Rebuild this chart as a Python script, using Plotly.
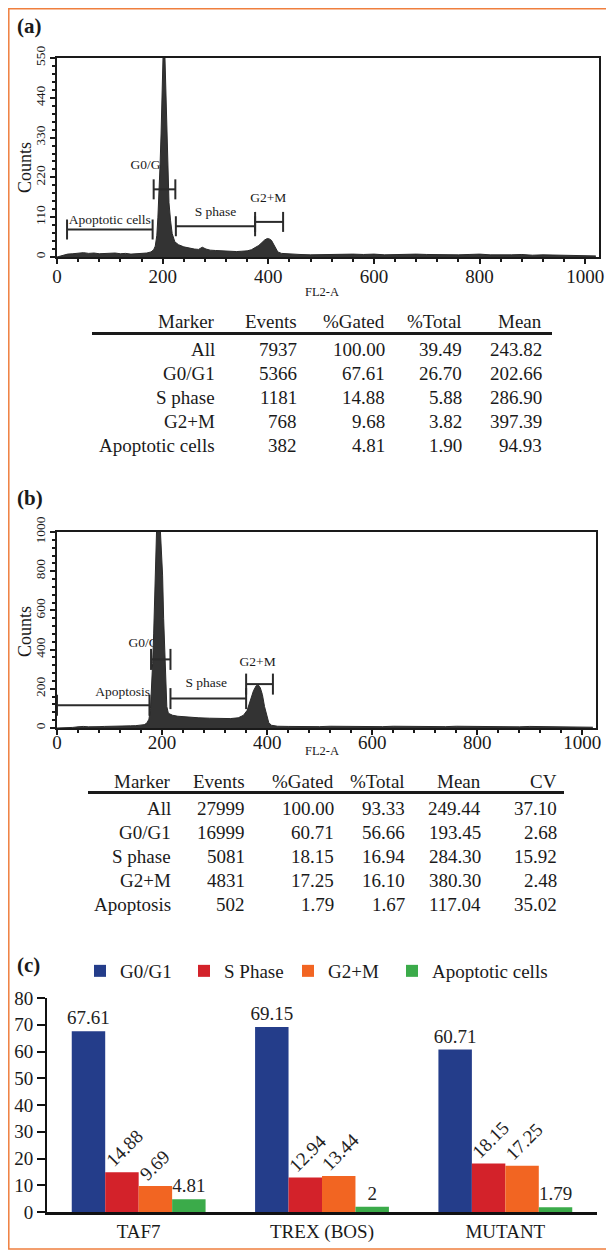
import plotly.graph_objects as go

PAGE_W, PAGE_H = 614, 1251
BODY = 8                      # default page margin of the html body
W, H = PAGE_W - BODY, PAGE_H - BODY
FONT = "Liberation Serif"
INK = "#1a1a1a"

# ---------------- data ----------------
# (a) histogram: FL2-A channel vs counts
hist_a_channel = [
    0, 5, 10, 15, 20, 30, 40, 50, 60, 70,
    80, 90, 100, 110, 120, 130, 140, 150, 160, 170,
    178, 183, 186, 189, 191, 193, 195, 197, 199, 201,
    204, 206, 208, 210, 212, 215, 218, 223, 230, 240,
    250, 260, 268, 275, 282, 290, 300, 310, 320, 330,
    340, 350, 360, 368, 375, 382, 388, 393, 398, 402,
    406, 410, 414, 418, 425, 440, 460, 480, 500, 520,
    540, 560, 580, 600, 620, 640, 660, 680, 700, 720,
    740, 760, 780, 800, 820, 840, 860, 880, 900, 920,
    940, 960, 980, 1000, 1020]
hist_a_counts = [
    0, 2, 4, 6, 8, 9, 11, 12, 10, 11,
    9, 10, 9, 11, 9, 10, 8, 9, 10, 11,
    14, 20, 30, 60, 110, 170, 250, 340, 450, 570,
    570, 450, 330, 220, 150, 100, 65, 42, 34, 28,
    24, 22, 21, 27, 22, 19, 18, 17, 16, 16,
    15, 16, 17, 20, 25, 32, 40, 47, 51, 50,
    46, 35, 22, 14, 10, 8, 7, 6, 7, 6,
    7, 8, 7, 8, 6, 7, 6, 8, 7, 6,
    7, 6, 7, 8, 6, 5, 6, 7, 5, 6,
    5, 6, 5, 4, 3]

# (b) histogram
hist_b_channel = [
    0, 10, 20, 30, 40, 50, 60, 70, 80, 90,
    100, 110, 120, 130, 140, 150, 160, 166, 171, 175,
    178, 180, 182, 184, 186, 188, 190, 196, 199, 201,
    203, 205, 207, 209, 212, 220, 230, 250, 270, 290,
    310, 330, 345, 355, 362, 368, 374, 379, 383, 387,
    391, 395, 399, 403, 408, 420, 440, 460, 480, 500,
    520, 540, 560, 580, 600, 620, 640, 660, 680, 700,
    720, 740, 760, 780, 800, 820, 840, 860, 880, 900,
    920, 940, 960, 980, 1000, 1020]
hist_b_counts = [
    0, 0, 1, 3, 6, 8, 6, 8, 7, 8,
    8, 9, 8, 10, 11, 12, 14, 17, 25, 45,
    100, 200, 330, 480, 700, 900, 1050, 1050, 900, 780,
    560, 380, 200, 110, 75, 65, 60, 55, 52, 50,
    48, 48, 52, 65, 90, 140, 190, 215, 220, 205,
    170, 110, 60, 28, 14, 9, 8, 7, 8, 7,
    9, 8, 10, 9, 8, 7, 9, 8, 10, 9,
    8, 7, 9, 8, 7, 9, 8, 7, 6, 8,
    7, 6, 7, 6, 5, 4]

# gate markers (channel ranges, bar level in counts, label position)
a_marker_names = ["Apoptotic cells", "G0/G1", "S phase", "G2+M"]
a_marker_start = [19, 183, 225, 375]
a_marker_end = [181, 224, 375, 428]
a_marker_level = [76, 187, 85, 97]
a_label_x = [100, 174, 300, 400]
a_label_y = [100, 252, 123, 162]

b_marker_names = ["Apoptosis", "G0/G1", "S phase", "G2+M"]
b_marker_start = [0, 179, 216, 360]
b_marker_end = [176, 216, 360, 411]
b_marker_level = [116, 350, 150, 224]
b_label_x = [125, 171, 284, 382]
b_label_y = [178, 431, 224, 331]

x_range = [0, 1026]
a_y_max = 550
b_y_max = 1000

# statistics tables
table_a_header = ["Marker", "Events", "%Gated", "%Total", "Mean"]
table_a_marker = ["All", "G0/G1", "S phase", "G2+M", "Apoptotic cells"]
table_a_events = ["7937", "5366", "1181", "768", "382"]
table_a_gated = ["100.00", "67.61", "14.88", "9.68", "4.81"]
table_a_total = ["39.49", "26.70", "5.88", "3.82", "1.90"]
table_a_mean = ["243.82", "202.66", "286.90", "397.39", "94.93"]

table_b_header = ["Marker", "Events", "%Gated", "%Total", "Mean", "CV"]
table_b_marker = ["All", "G0/G1", "S phase", "G2+M", "Apoptosis"]
table_b_events = ["27999", "16999", "5081", "4831", "502"]
table_b_gated = ["100.00", "60.71", "18.15", "17.25", "1.79"]
table_b_total = ["93.33", "56.66", "16.94", "16.10", "1.67"]
table_b_mean = ["249.44", "193.45", "284.30", "380.30", "117.04"]
table_b_cv = ["37.10", "2.68", "15.92", "2.48", "35.02"]

# (c) bar chart
groups = ["TAF7", "TREX (BOS)", "MUTANT"]
phase_names = ["G0/G1", "S Phase", "G2+M", "Apoptotic cells"]
g0g1 = [67.61, 69.15, 60.71]
s_phase = [14.88, 12.94, 18.15]
g2m = [9.69, 13.44, 17.25]
apoptotic = [4.81, 2, 1.79]
phase_colors = ["#243D8A", "#D3222A", "#F26522", "#3BAB4A"]
phase_label_rotated = [False, True, True, False]
phase_legend = ["legend", "legend", "legend", "legend2"]

BARGAP = 0.27
LABEL_SIZE = 19


# ---------------- helpers ----------------
def px(x):
    return (x - BODY) / W


def py(y):
    return 1 - (y - BODY) / H


def brackets(starts, ends, levels, half):
    xs, ys = [], []
    for x0, x1, yv in zip(starts, ends, levels):
        xs += [x0, x1, None, x0, x0, None, x1, x1, None]
        ys += [yv, yv, None, yv - half, yv + half, None, yv - half, yv + half, None]
    return xs, ys


def text_len(s, size):
    # approximate advance of a Times-like serif numeric string
    return sum(0.25 * size if ch == "." else 0.5 * size for ch in s)


# subplot pixel boxes on the page (left, right, bottom, top)
A_BOX = (57, 599, 257, 58)
B_BOX = (57, 596, 728, 532)
C_BOX = (47, 597, 1212, 998)

fig = go.Figure()

# ---------- panel (a) ----------
fig.add_trace(go.Scatter(
    x=a_label_x, y=a_label_y, text=a_marker_names, mode="text",
    textfont=dict(family=FONT, size=13.5, color=INK),
    xaxis="x", yaxis="y", showlegend=False, hoverinfo="skip"))
fig.add_trace(go.Scatter(
    x=hist_a_channel, y=hist_a_counts, mode="lines", fill="tozeroy",
    line=dict(color="#2a2a2a", width=1), fillcolor="#333333",
    xaxis="x", yaxis="y", showlegend=False))
half_a = 10 * a_y_max / (A_BOX[2] - A_BOX[3])
bx, by = brackets(a_marker_start, a_marker_end, a_marker_level, half_a)
fig.add_trace(go.Scatter(x=bx, y=by, mode="lines", line=dict(color="#2b2b2b", width=2),
                         xaxis="x", yaxis="y", showlegend=False, hoverinfo="skip"))

# ---------- panel (b) ----------
fig.add_trace(go.Scatter(
    x=b_label_x, y=b_label_y, text=b_marker_names, mode="text",
    textfont=dict(family=FONT, size=13.5, color=INK),
    xaxis="x2", yaxis="y2", showlegend=False, hoverinfo="skip"))
fig.add_trace(go.Scatter(
    x=hist_b_channel, y=hist_b_counts, mode="lines", fill="tozeroy",
    line=dict(color="#2a2a2a", width=1), fillcolor="#333333",
    xaxis="x2", yaxis="y2", showlegend=False))
half_b = 10.5 * b_y_max / (B_BOX[2] - B_BOX[3])
bx, by = brackets(b_marker_start, b_marker_end, b_marker_level, half_b)
fig.add_trace(go.Scatter(x=bx, y=by, mode="lines", line=dict(color="#2b2b2b", width=2),
                         xaxis="x2", yaxis="y2", showlegend=False, hoverinfo="skip"))

# ---------- panel (c) ----------
bar_annotations = []
n_series = len(phase_names)
for j, (name, vals, col, rot, leg) in enumerate(zip(phase_names,
                                                   [g0g1, s_phase, g2m, apoptotic],
                                                   phase_colors, phase_label_rotated,
                                                   phase_legend)):
    labels = [str(v) for v in vals]
    fig.add_trace(go.Bar(
        x=groups, y=vals, name=name, marker=dict(color=col, line=dict(width=0)),
        text=None if rot else labels, textposition="outside", textangle=0,
        textfont=dict(family=FONT, size=LABEL_SIZE, color="#222"),
        constraintext="none", cliponaxis=False, legend=leg,
        xaxis="x3", yaxis="y3"))
    if rot:
        offset = (j - (n_series - 1) / 2) * (1 - BARGAP) / n_series
        for i, (v, s) in enumerate(zip(vals, labels)):
            half = 0.707 * text_len(s, LABEL_SIZE) / 2
            bar_annotations.append(dict(
                x=i + offset, y=v, xref="x3", yref="y3", text=s, showarrow=False,
                textangle=-45, xanchor="center", yanchor="middle",
                xshift=-13 + half, yshift=9 + half,
                font=dict(family=FONT, size=LABEL_SIZE, color="#222")))

hist_axis = dict(showline=True, linewidth=2, linecolor=INK, mirror=True,
                 showgrid=False, zeroline=False, ticks="outside", ticklen=5,
                 tickwidth=1.5, tickcolor=INK, automargin=False)

legend_common = dict(orientation="h", yanchor="middle", xanchor="left",
                     font=dict(family=FONT, size=19, color=INK),
                     bgcolor="rgba(0,0,0,0)", traceorder="normal")

layout = dict(
    width=W, height=H, autosize=False,
    margin=dict(l=0, r=0, t=0, b=0, pad=0, autoexpand=False),
    paper_bgcolor="white", plot_bgcolor="white",
    font=dict(family=FONT, color=INK),
    barmode="group", bargap=BARGAP, bargroupgap=0,
    xaxis=dict(domain=[px(A_BOX[0]), px(A_BOX[1])], range=x_range, anchor="y",
               tickmode="linear", tick0=0, dtick=200, tickfont=dict(size=19),
               ticklabelstandoff=-4,
               minor=dict(ticks="outside", ticklen=3, dtick=40, tickcolor=INK, showgrid=False),
               **hist_axis),
    yaxis=dict(domain=[py(A_BOX[2]), py(A_BOX[3])], range=[0, a_y_max], anchor="x",
               tickmode="linear", tick0=0, dtick=110, tickangle=-90, tickfont=dict(size=13.5),
               minor=dict(ticks="outside", ticklen=3, dtick=22, tickcolor=INK, showgrid=False),
               **hist_axis),
    xaxis2=dict(domain=[px(B_BOX[0]), px(B_BOX[1])], range=x_range, anchor="y2",
                tickmode="linear", tick0=0, dtick=200, tickfont=dict(size=19),
                ticklabelstandoff=-9,
                minor=dict(ticks="outside", ticklen=3, dtick=40, tickcolor=INK, showgrid=False),
                **hist_axis),
    yaxis2=dict(domain=[py(B_BOX[2]), py(B_BOX[3])], range=[0, b_y_max], anchor="x2",
                tickmode="linear", tick0=0, dtick=200, tickangle=-90, tickfont=dict(size=13.5),
                minor=dict(ticks="outside", ticklen=3, dtick=40, tickcolor=INK, showgrid=False),
                **hist_axis),
    xaxis3=dict(domain=[px(C_BOX[0]), px(C_BOX[1])], anchor="y3", type="category",
                range=[-0.5, 2.5], showline=True, linewidth=2.5, linecolor="#111",
                ticks="", showgrid=False, zeroline=False, tickfont=dict(size=19),
                automargin=False),
    yaxis3=dict(domain=[py(C_BOX[2]), py(C_BOX[3])], anchor="x3", range=[0, 80],
                tickmode="linear", tick0=0, dtick=10, showline=True, linewidth=2,
                linecolor="#111", ticks="outside", ticklen=8, tickwidth=2, tickcolor="#111",
                showgrid=False, zeroline=False, tickfont=dict(size=19), automargin=False),
    legend=dict(x=px(80), y=py(971), entrywidth=59, entrywidthmode="pixels", **legend_common),
    legend2=dict(x=px(392), y=py(971), **legend_common),
)
fig.update_layout(**layout)

annotations = []


def note(text, x, y, size, xanchor="center", yanchor="middle", angle=0):
    annotations.append(dict(text=text, x=px(x), y=py(y), xref="paper", yref="paper",
                            showarrow=False, xanchor=xanchor, yanchor=yanchor,
                            textangle=angle, font=dict(family=FONT, size=size, color=INK)))


# panel letters
note("<b>(a)</b>", 15, 26, 21, xanchor="left")
note("<b>(b)</b>", 15, 498, 21, xanchor="left")
note("<b>(c)</b>", 15, 965, 21, xanchor="left")

# axis titles
note("Counts", 25, 168, 18, angle=-90)
note("Counts", 25, 632, 18, angle=-90)
note("FL2-A", 322, 292, 12.5)
note("FL2-A", 322, 751, 12.5)

# tables
cols_a = [table_a_marker, table_a_events, table_a_gated, table_a_total, table_a_mean]
right_a = [216, 298, 386, 463, 543]
rows_a = [349, 373, 397, 421, 445]
for hdr, col, xr in zip(table_a_header, cols_a, right_a):
    note(hdr, xr + 1, 322, 19, xanchor="right")
    for val, yr in zip(col, rows_a):
        note(val, xr + 1, yr, 19, xanchor="right")

cols_b = [table_b_marker, table_b_events, table_b_gated, table_b_total, table_b_mean, table_b_cv]
right_b = [172, 246, 335, 406, 482, 558]
rows_b = [808.5, 832.5, 856.5, 880.5, 904.5]
for hdr, col, xr in zip(table_b_header, cols_b, right_b):
    note(hdr, xr + 1, 781, 19, xanchor="right")
    for val, yr in zip(col, rows_b):
        note(val, xr + 1, yr, 19, xanchor="right")

fig.update_layout(annotations=annotations + bar_annotations)

shapes = [
    dict(type="line", xref="paper", yref="paper", x0=px(92), x1=px(552), y0=py(333.5), y1=py(333.5),
         line=dict(color=INK, width=3)),
    dict(type="line", xref="paper", yref="paper", x0=px(88), x1=px(564), y0=py(792.5), y1=py(792.5),
         line=dict(color=INK, width=3)),
    dict(type="rect", xref="paper", yref="paper", x0=px(8.8), x1=px(610), y0=py(1249), y1=py(8.8),
         line=dict(color="#EF7F3E", width=1.5), fillcolor="rgba(0,0,0,0)"),
]
fig.update_layout(shapes=shapes)

fig.write_html("out.html")
